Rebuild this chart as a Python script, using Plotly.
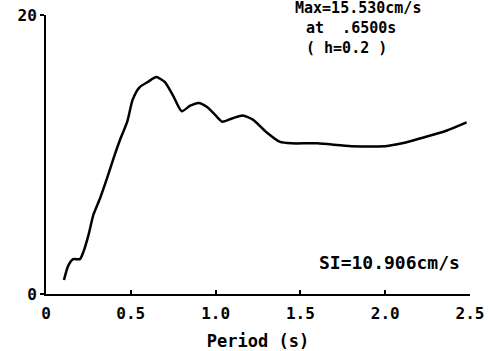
import plotly.graph_objects as go

period = [0.106, 0.13, 0.16, 0.20, 0.22, 0.25, 0.28, 0.32, 0.36, 0.40, 0.435, 0.48, 0.51, 0.55,
          0.60, 0.65, 0.70, 0.75, 0.80, 0.85, 0.90, 0.95, 1.00, 1.04, 1.10, 1.16, 1.22, 1.30,
          1.38, 1.45, 1.60, 1.80, 2.00, 2.10, 2.22, 2.36, 2.48]
velocity = [1.0, 2.0, 2.5, 2.5, 3.0, 4.2, 5.7, 6.9, 8.3, 9.8, 11.0, 12.4, 13.9, 14.8,
            15.2, 15.55, 15.2, 14.2, 13.1, 13.5, 13.7, 13.4, 12.8, 12.35, 12.6, 12.8, 12.5, 11.6,
            10.9, 10.8, 10.8, 10.6, 10.6, 10.8, 11.2, 11.7, 12.3]

x_ticks = [0, 0.5, 1.0, 1.5, 2.0, 2.5]
x_ticklabels = ["0", "0.5", "1.0", "1.5", "2.0", "2.5"]
y_ticks = [0, 20]
y_ticklabels = ["0", "20"]

info_lines = ["Max=15.530cm/s", "at  .6500s", "( h=0.2 )"]
si_text = "SI=10.906cm/s"

FONT = "DejaVu Sans Mono"
W, H = 493, 351
L, R, T, B = 46, 23, 15, 57
pw, ph = W - L - R, H - T - B

def px(x):
    return (x - L) / pw

def py(y):
    return (H - B - y) / ph

fig = go.Figure()
fig.add_trace(go.Scatter(x=period, y=velocity, mode="lines",
                         line=dict(color="black", width=2.5, shape="spline", smoothing=0.6),
                         hoverinfo="skip", showlegend=False))

fig.update_layout(
    width=W, height=H,
    margin=dict(l=L, r=R, t=T, b=B),
    paper_bgcolor="white", plot_bgcolor="white",
    font=dict(family=FONT, color="black", size=16, weight="bold"),
    xaxis=dict(range=[0, 2.5], tickvals=x_ticks, ticktext=x_ticklabels, automargin=False,
               showgrid=False, zeroline=False, showline=True, linecolor="black", linewidth=2,
               ticks="inside", ticklen=4, tickwidth=1.5, tickcolor="black",
               ticklabelstandoff=4,
               tickfont=dict(family=FONT, size=16, weight="bold"),
               title=dict(text="Period (s)", font=dict(family=FONT, size=17, weight="bold"),
                          standoff=14)),
    yaxis=dict(range=[0, 20], tickvals=y_ticks, ticktext=y_ticklabels, automargin=False,
               showgrid=False, zeroline=False, showline=True, linecolor="black", linewidth=2,
               ticks="outside", ticklen=4, tickwidth=1.5, tickcolor="black",
               tickfont=dict(family=FONT, size=16, weight="bold")),
)

ann_pos = [(294, 8), (305, 28), (305, 48)]
for txt, (ax_, ay_) in zip(info_lines, ann_pos):
    fig.add_annotation(text=txt, xref="paper", yref="paper", x=px(ax_), y=py(ay_),
                       xanchor="left", yanchor="middle", showarrow=False, borderpad=0,
                       font=dict(family=FONT, size=15, weight="bold"))

fig.add_annotation(text=si_text, xref="paper", yref="paper", x=px(462), y=py(262),
                   xanchor="right", yanchor="middle", showarrow=False,
                   font=dict(family=FONT, size=18, weight="bold"))

fig.write_html("out.html")
